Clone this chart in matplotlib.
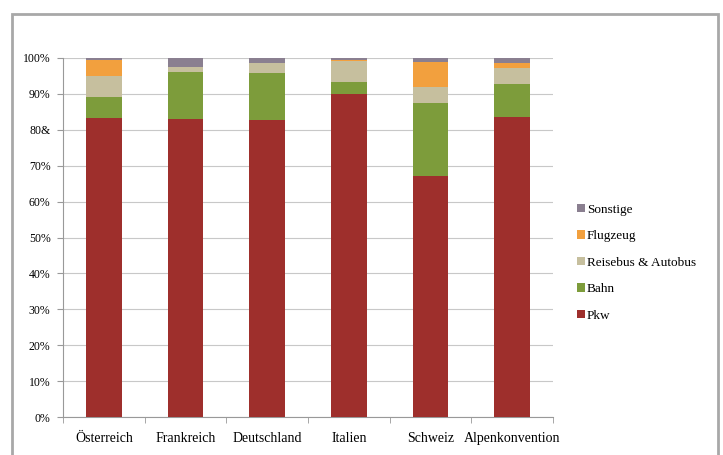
import matplotlib.pyplot as plt
import numpy as np
from matplotlib.patches import Rectangle

# Modal Split nach Ländern (Anteile in %)
laender = ["Österreich", "Frankreich", "Deutschland", "Italien", "Schweiz", "Alpenkonvention"]
pkw = [83.2, 83.0, 82.7, 90.0, 67.2, 83.5]
bahn = [5.8, 13.0, 13.2, 3.3, 20.2, 9.2]
reisebus = [6.0, 1.5, 2.6, 6.0, 4.6, 4.5]
flugzeug = [4.5, 0.0, 0.0, 0.2, 6.8, 1.5]
sonstige = [0.5, 2.5, 1.5, 0.5, 1.2, 1.3]

serien = [("Pkw", pkw, "#9e2f2c"),
          ("Bahn", bahn, "#7d9c3b"),
          ("Reisebus & Autobus", reisebus, "#c6bf9e"),
          ("Flugzeug", flugzeug, "#f2a03e"),
          ("Sonstige", sonstige, "#8a7f90")]

ytick_labels = ["0%", "10%", "20%", "30%", "40%", "50%", "60%", "70%", "80&", "90%", "100%"]

plt.rcParams['font.family'] = ['Liberation Serif', 'DejaVu Serif']

fig = plt.figure(figsize=(7.23, 4.55), dpi=100)
# Rahmen um das Diagramm
fig.patches.append(Rectangle((12 / 723, -0.05), 706 / 723, 1 - 14 / 455 + 0.05,
                             transform=fig.transFigure, fill=False,
                             edgecolor="#a8a8a8", linewidth=2))

ax = fig.add_axes([63 / 723, 1 - 417 / 455, 490 / 723, 359 / 455])

x = np.arange(len(laender))
unten = np.zeros(len(laender))
for name, werte, farbe in serien:
    ax.bar(x, werte, 0.44, bottom=unten, color=farbe, label=name, zorder=3)
    unten += np.array(werte)

ax.set_xlim(-0.5, len(laender) - 0.5)
ax.set_ylim(0, 100)
ax.set_yticks(np.arange(0, 101, 10))
ax.set_yticklabels(ytick_labels, fontsize=8.5)
ax.yaxis.grid(True, color="#c8c8c8", linewidth=0.8, zorder=0)

ax.set_xticks(x)
ax.set_xticklabels(laender, fontsize=10)
ax.set_xticks(np.arange(-0.5, len(laender)), minor=True)
ax.tick_params(axis="x", which="major", length=0, pad=11)
ax.tick_params(axis="x", which="minor", length=4, color="#999999")
ax.tick_params(axis="y", length=4, color="#999999", pad=5)

for s in ["top", "right"]:
    ax.spines[s].set_visible(False)
for s in ["left", "bottom"]:
    ax.spines[s].set_color("#999999")

# Legende in umgekehrter Reihenfolge
h, l = ax.get_legend_handles_labels()
ax.legend(h[::-1], l[::-1], loc="center left", bbox_to_anchor=(1.025, 0.43),
          frameon=False, fontsize=9.5, handlelength=0.6, handleheight=0.6,
          handletextpad=0.15, labelspacing=1.1)

plt.savefig("out.png", dpi=100)
